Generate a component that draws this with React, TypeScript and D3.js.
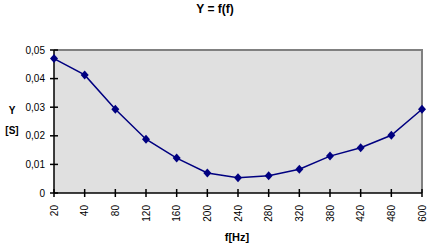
import React from "react";
import * as d3 from "d3";

const categories = ["20", "40", "80", "120", "160", "200", "240", "280", "320", "380", "420", "480", "600"];
const values = [0.047, 0.0413, 0.0293, 0.0188, 0.0122, 0.007, 0.0053, 0.006, 0.0083, 0.0129, 0.0158, 0.0202, 0.0293];
const yTicks = [0, 0.01, 0.02, 0.03, 0.04, 0.05];
const yTickLabels = ["0", "0,01", "0,02", "0,03", "0,04", "0,05"];

export default function App() {
  const W = 430, H = 248;
  const left = 54, right = 422, top = 50, bottom = 193;
  const x = d3.scalePoint<string>().domain(categories).range([left, right]);
  const y = d3.scaleLinear().domain([0, 0.05]).range([bottom, top]);
  const line = d3.line<number>().x((_, i) => x(categories[i])!).y((d) => y(d));
  const font = "'Liberation Sans', Arial, sans-serif";
  return (
    <svg width={W} height={H} style={{ position: "absolute", left: 0, top: 0 }} fontFamily={font}>
      <rect x={0} y={0} width={W} height={H} fill="#fff" />
      <text x={215} y={13} textAnchor="middle" fontSize={12} fontWeight="bold">Y = f(f)</text>
      <rect x={left} y={top} width={right - left} height={bottom - top} fill="#e0e0e0" />
      <path d={`M${left},${top}H${right}V${bottom}`} fill="none" stroke="#808080" strokeWidth={2} />
      <line x1={left} x2={left} y1={top} y2={bottom} stroke="#000" strokeWidth={1.5} />
      <line x1={left} x2={right} y1={bottom} y2={bottom} stroke="#000" strokeWidth={1.5} />
      {yTicks.map((t, i) => (
        <g key={i}>
          <line x1={left - 4} x2={left + 4} y1={y(t)} y2={y(t)} stroke="#000" strokeWidth={1.5} />
          <text x={left - 9} y={y(t) + 3.5} textAnchor="end" fontSize={10}>{yTickLabels[i]}</text>
        </g>
      ))}
      {categories.map((c) => (
        <g key={c}>
          <line x1={x(c)} x2={x(c)} y1={bottom - 4} y2={bottom + 4} stroke="#000" strokeWidth={1.5} />
          <text transform={`translate(${x(c)! + 3.5},${bottom + 12}) rotate(-90)`} textAnchor="end" fontSize={10}>{c}</text>
        </g>
      ))}
      <path d={line(values)!} fill="none" stroke="#000080" strokeWidth={1.5} />
      {values.map((v, i) => {
        const cx = x(categories[i])!, cy = y(v);
        return <path key={i} d={`M${cx},${cy - 4.5}L${cx + 4},${cy}L${cx},${cy + 4.5}L${cx - 4},${cy}Z`} fill="#000080" />;
      })}
      <text x={12} y={114} textAnchor="middle" fontSize={10} fontWeight="bold">Y</text>
      <text x={12} y={134} textAnchor="middle" fontSize={10} fontWeight="bold">[S]</text>
      <text x={237} y={241} textAnchor="middle" fontSize={11} fontWeight="bold">f[Hz]</text>
    </svg>
  );
}
